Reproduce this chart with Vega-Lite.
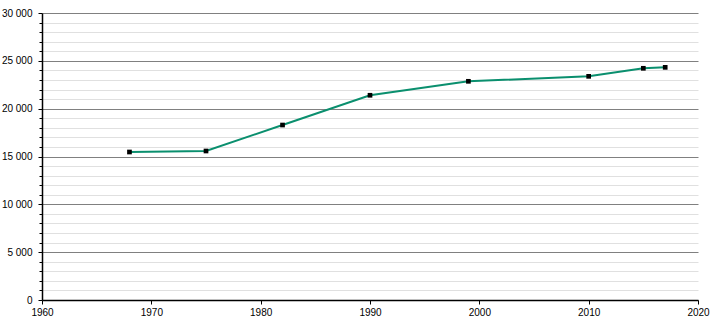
{
  "$schema": "https://vega.github.io/schema/vega-lite/v6.json",
  "width": 656,
  "height": 287,
  "autosize": {"type": "none"},
  "padding": {"left": 42, "top": 13, "right": 12, "bottom": 20},
  "background": "white",
  "config": {
    "view": {"stroke": null},
    "locale": {"number": {"decimal": ",", "thousands": " ", "grouping": [3], "currency": ["", ""]}},
    "axis": {"labelFont": "Liberation Sans", "labelFontSize": 10, "labelColor": "#000"}
  },
  "data": {"values": [
    {"year": 1968, "pop": 15470},
    {"year": 1975, "pop": 15575},
    {"year": 1982, "pop": 18290},
    {"year": 1990, "pop": 21400},
    {"year": 1999, "pop": 22860},
    {"year": 2010, "pop": 23380},
    {"year": 2015, "pop": 24220},
    {"year": 2017, "pop": 24320}
  ]},
  "encoding": {
    "x": {
      "field": "year", "type": "quantitative",
      "scale": {"domain": [1960, 2020], "nice": false, "zero": false},
      "axis": {
        "title": null, "values": [1960, 1970, 1980, 1990, 2000, 2010, 2020],
        "format": "d", "grid": false, "domainColor": "#000", "domainWidth": 1.5,
        "tickColor": "#000", "tickSize": 4, "labelPadding": 3, "labelFlush": false
      }
    },
    "y": {
      "field": "pop", "type": "quantitative",
      "scale": {"domain": [0, 30000], "nice": false},
      "axis": {
        "title": null,
        "values": [0,1000,2000,3000,4000,5000,6000,7000,8000,9000,10000,11000,12000,13000,14000,15000,16000,17000,18000,19000,20000,21000,22000,23000,24000,25000,26000,27000,28000,29000,30000],
        "labelExpr": "datum.value % 5000 === 0 ? format(datum.value, ',') : ''",
        "grid": true,
        "gridColor": {"condition": {"test": "datum.value % 5000 === 0", "value": "#808080"}, "value": "#e0e0e0"},
        "gridWidth": 1,
        "domainColor": "#000", "domainWidth": 1.5,
        "tickColor": "#000",
        "tickSize": {"condition": {"test": "datum.value % 5000 === 0", "value": 4}, "value": 3},
        "labelPadding": 6,
        "labelBaseline": "middle"
      }
    }
  },
  "layer": [
    {"mark": {"type": "line", "color": "#0A8F6E", "strokeWidth": 2}},
    {"mark": {"type": "square", "color": "#000", "opacity": 1, "size": 22, "filled": true}}
  ]
}
